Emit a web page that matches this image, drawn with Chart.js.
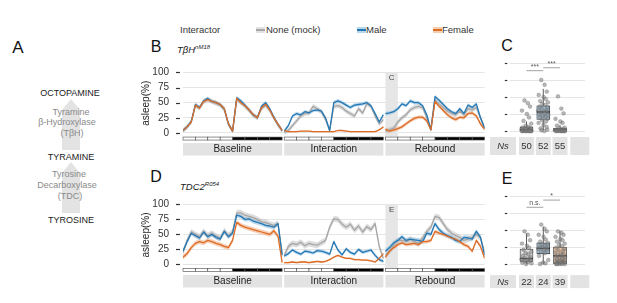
<!DOCTYPE html>
<html>
<head>
<meta charset="utf-8">
<script src="https://cdn.jsdelivr.net/npm/chart.js@4.4.0/dist/chart.umd.min.js"></script>
<style>
body { margin: 0; background: #fff; font-family: "Liberation Sans", Arial, sans-serif; }
#fig { position: relative; width: 617px; height: 303px; overflow: hidden; }
.t { position: absolute; white-space: nowrap; line-height: 1; transform: translate(-50%, -50%); }
.l { position: absolute; white-space: nowrap; line-height: 1; transform: translateY(-50%); }
.key { position: absolute; width: 9px; height: 6px; }
.key i { position: absolute; left: 0; right: 0; top: 2px; height: 2px; }
canvas { position: absolute; }
sup { font-size: 6px; vertical-align: 4px; }
</style>
</head>
<body>
<div id="fig">
  <!-- panel A -->
  <svg width="140" height="303" style="position:absolute;left:0;top:0">
    <polygon points="71,99 80,110 80,150 62,150 62,110" fill="#e3e3e3"/>
    <polygon points="71,162 80,173 80,213 62,213 62,173" fill="#e3e3e3"/>
  </svg>
  <div class="t" style="left:18px;top:47px;font-size:17px;color:#111">A</div>
  <div class="t" style="left:70px;top:93px;font-size:9px;color:#222">OCTOPAMINE</div>
  <div class="t" style="left:71px;top:112px;font-size:9px;color:#8a8a8a">Tyramine</div>
  <div class="t" style="left:67px;top:122px;font-size:9px;color:#8a8a8a">β-Hydroxylase</div>
  <div class="t" style="left:72px;top:133px;font-size:9px;color:#8a8a8a">(TβH)</div>
  <div class="t" style="left:71px;top:157px;font-size:9px;color:#222">TYRAMINE</div>
  <div class="t" style="left:69px;top:174px;font-size:9px;color:#8a8a8a">Tyrosine</div>
  <div class="t" style="left:67px;top:185px;font-size:9px;color:#8a8a8a">Decarboxylase</div>
  <div class="t" style="left:70px;top:196px;font-size:9px;color:#8a8a8a">(TDC)</div>
  <div class="t" style="left:71px;top:220px;font-size:9px;color:#222">TYROSINE</div>

  <!-- legend -->
  <div class="l" style="left:180px;top:30px;font-size:9.5px;color:#333">Interactor</div>
  <div class="key" style="left:256px;top:27px;background:#e2e2e2"><i style="background:#a6a6a6"></i></div>
  <div class="l" style="left:266px;top:30px;font-size:9.5px;color:#333">None (mock)</div>
  <div class="key" style="left:357px;top:27px;background:#b5d6ec"><i style="background:#2478b4"></i></div>
  <div class="l" style="left:366px;top:30px;font-size:9.5px;color:#333">Male</div>
  <div class="key" style="left:433px;top:27px;background:#f7cfae"><i style="background:#dd6c26"></i></div>
  <div class="l" style="left:442px;top:30px;font-size:9.5px;color:#333">Female</div>

  <!-- panel letters and genotypes -->
  <div class="t" style="left:156px;top:47px;font-size:16px;color:#111">B</div>
  <div class="t" style="left:507px;top:46px;font-size:16px;color:#111">C</div>
  <div class="t" style="left:156px;top:177px;font-size:16px;color:#111">D</div>
  <div class="t" style="left:507px;top:179px;font-size:16px;color:#111">E</div>
  <div class="l" style="left:177px;top:49px;font-size:9.5px;font-style:italic;color:#222">TβH<sup>nM18</sup></div>
  <div class="l" style="left:180px;top:186px;font-size:9.5px;font-style:italic;color:#222">TDC2<sup>R054</sup></div>

  <canvas id="chartB" width="350" height="110" style="left:140px;top:50px"></canvas>
  <canvas id="chartC" width="110" height="110" style="left:490px;top:50px"></canvas>
  <canvas id="chartD" width="350" height="110" style="left:140px;top:182px"></canvas>
  <canvas id="chartE" width="110" height="110" style="left:490px;top:182px"></canvas>
</div>

<script>
const FONT = '"Liberation Sans", Arial, sans-serif'

// hour within each 24 h phase, and where each phase starts on the shared time axis
const hours = [0, 1, 2, 3, 4, 5, 6, 7, 8, 9, 10, 11, 12, 13, 14, 15, 16, 17, 18, 19, 20, 21, 22, 23, 24]
const segOffset = [0, 24.5, 49]
const segNames = ['Baseline', 'Interaction', 'Rebound']
const lightBlocks = [0, 3, 6, 9]
const darkBlocks = [12, 15, 18, 21]
const blockLen = 3
const shadeFrom = 49
const shadeTo = 52
const yTicks = [0, 25, 50, 75, 100]

// ---- panel B: TbH nM18 ----
const bMockBase = [4, 10, 18, 45, 41, 52, 55, 52, 49, 46, 38, 14, 3, 55, 50, 44, 37, 29, 25, 40, 46, 37, 24, 13, 4]
const bMockInt  = [1, 4, 12, 20, 28, 32, 33, 44, 40, 35, 22, 4, 44, 45, 42, 36, 32, 28, 40, 33, 48, 44, 28, 15, 22]
const bMockReb  = [3, 5, 8, 18, 25, 30, 38, 42, 44, 42, 25, 6, 55, 48, 42, 36, 32, 30, 36, 30, 40, 38, 42, 25, 8]
const bMaleBase = [4, 10, 19, 47, 42, 53, 57, 52, 50, 47, 40, 15, 3, 58, 53, 46, 38, 30, 25, 44, 50, 40, 26, 14, 4]
const bMaleInt  = [3, 12, 28, 32, 30, 35, 33, 37, 38, 36, 25, 4, 50, 53, 50, 46, 42, 46, 47, 48, 50, 45, 32, 18, 30]
const bMaleReb  = [32, 33, 35, 40, 48, 45, 53, 50, 50, 45, 30, 5, 60, 54, 47, 40, 35, 32, 40, 32, 46, 42, 48, 25, 8]
const bFemBase  = [4, 10, 18, 46, 41, 52, 55, 52, 50, 47, 40, 15, 3, 57, 50, 45, 38, 30, 25, 42, 47, 38, 25, 14, 4]
const bFemInt   = [4, 2, 2, 2, 3, 3, 3, 2, 2, 2, 2, 2, 2, 4, 4, 3, 2, 2, 2, 2, 2, 2, 2, 5, 10]
const bFemReb   = [6, 3, 5, 7, 10, 15, 20, 24, 26, 26, 20, 5, 52, 44, 37, 30, 25, 22, 26, 25, 32, 33, 28, 15, 6]
const bMockSem = [4, 4, 4]
const bMaleSem = [3, 3, 3]
const bFemSem  = [3, 1, 3]

// ---- panel D: TDC2 R054 ----
const dMockBase = [20, 40, 54, 50, 46, 55, 48, 52, 47, 44, 56, 48, 54, 86, 86, 82, 80, 78, 75, 71, 70, 67, 65, 68, 18]
const dMockInt  = [15, 30, 35, 33, 37, 31, 35, 33, 32, 36, 40, 62, 76, 75, 67, 62, 67, 57, 64, 54, 63, 58, 68, 30, 10]
const dMockReb  = [15, 22, 32, 40, 40, 38, 42, 38, 35, 44, 55, 62, 80, 78, 68, 58, 52, 48, 45, 40, 42, 45, 50, 45, 20]
const dMaleBase = [22, 38, 52, 48, 44, 54, 46, 50, 45, 42, 55, 46, 52, 82, 80, 75, 76, 72, 70, 68, 65, 64, 62, 68, 15]
const dMaleInt  = [14, 18, 24, 20, 17, 22, 21, 19, 23, 22, 20, 17, 38, 24, 16, 26, 20, 17, 25, 20, 22, 24, 15, 8, 5]
const dMaleReb  = [22, 28, 36, 40, 46, 40, 42, 41, 40, 38, 52, 50, 68, 58, 52, 48, 45, 40, 38, 45, 44, 42, 55, 45, 15]
const dFemBase  = [12, 18, 28, 35, 38, 36, 40, 38, 35, 33, 30, 28, 40, 70, 65, 62, 60, 58, 56, 54, 52, 50, 56, 47, 3]
const dFemInt   = [3, 3, 4, 3, 4, 4, 3, 4, 5, 4, 5, 8, 12, 15, 12, 10, 10, 8, 8, 7, 7, 6, 4, 10, 18]
const dFemReb   = [12, 22, 28, 33, 36, 33, 34, 35, 33, 38, 38, 40, 55, 52, 50, 47, 44, 42, 38, 33, 30, 22, 40, 30, 10]
const dMockSem = [5, 5, 5]
const dMaleSem = [4, 3, 4]
const dFemSem  = [4, 1.5, 3]

// ---- panel C: sleep in first 3 h of rebound (TbH) ----
const cQ1  = [0, 17, 0]
const cQ3  = [6, 37, 4]
const cMed = [2, 28, 1]
const cLo  = [0, 1, 0]
const cHi  = [14, 62, 9]
const cMockPts = [45, 41, 36, 30, 25, 20, 15, 11, 8, 6, 5, 4, 3, 3, 2, 2, 1, 1, 1, 0, 0, 0, 0, 0, 0, 0, 0, 0, 0, 0]
const cMalePts = [75, 68, 58, 53, 50, 47, 44, 42, 40, 38, 36, 35, 33, 31, 30, 29, 28, 27, 26, 25, 24, 22, 21, 20, 18, 16, 14, 12, 9, 6, 4, 2, 1, 0]
const cFemPts  = [51, 33, 26, 18, 14, 12, 8, 5, 4, 3, 2, 2, 1, 1, 1, 0, 0, 0, 0, 0, 0, 0, 0, 0, 0]
const cNs = ['50', '52', '55']
const cSigFrom = [1, 2]
const cSigTo   = [2, 3]
const cSigY    = [88.7, 93]
const cSigText = ['***', '***']

// ---- panel E: same for TDC2 ----
const eQ1  = [4, 15, 0]
const eQ3  = [22, 31, 25]
const eMed = [8, 23, 12]
const eLo  = [0, 0, 0]
const eHi  = [45, 55, 48]
const eMockPts = [48, 43, 35, 30, 27, 24, 21, 18, 16, 14, 12, 10, 9, 8, 7, 6, 5, 4, 3, 2, 1, 0]
const eMalePts = [58, 52, 48, 43, 40, 36, 33, 31, 29, 27, 26, 25, 24, 23, 22, 21, 20, 18, 16, 12, 6, 2, 1, 0]
const eFemPts  = [48, 46, 43, 40, 37, 35, 33, 30, 28, 26, 24, 22, 20, 19, 17, 15, 14, 13, 12, 11, 10, 9, 8, 7, 6, 5, 4, 4, 3, 3, 2, 2, 1, 1, 0, 0, 0, 0, 0]
const eNs = ['22', '24', '39']
const eSigFrom = [1, 2]
const eSigTo   = [2, 3]
const eSigY    = [83.4, 94]
const eSigText = ['n.s.', '*']

// horizontal jitter of the dots, in group widths
const jitterX = [-0.12, 0.08, 0.21, -0.27, 0.02, 0.15, -0.18, 0.28, -0.05, 0.11, -0.22, 0.25, -0.09, 0.18, -0.3, 0.05, 0.23, -0.14, 0.09, -0.25,
                 0.3, -0.02, 0.13, -0.19, 0.27, -0.07, 0.16, -0.28, 0.01, 0.2, -0.16, 0.24, -0.11, 0.06, -0.23, 0.29, -0.04, 0.12, -0.2, 0.19]

const lineCol = ['#a6a6a6', '#2478b4', '#dd6c26']
const bandCol = ['rgba(180,180,180,0.45)', 'rgba(125,182,224,0.5)', 'rgba(240,160,110,0.5)']
const boxFill = ['#e2e2e2', '#a9cce4', '#f6caa6']

function tickDashes(chart, len, gap) {
  const {ctx, chartArea: a, scales: {y}} = chart
  ctx.save()
  ctx.strokeStyle = '#333'
  ctx.lineWidth = 1.2
  y.ticks.forEach(t => {
    const py = Math.round(y.getPixelForValue(t.value)) + 0.5
    ctx.beginPath()
    ctx.moveTo(a.left - gap - len, py)
    ctx.lineTo(a.left - gap, py)
    ctx.stroke()
  })
  ctx.restore()
}

function timeDeco(shadeLabel, stripTop) {
  return {
    id: 'timeDeco',
    beforeDatasetsDraw(chart) {
      const {ctx, chartArea: a, scales: {x, y}} = chart
      const x0 = x.getPixelForValue(shadeFrom), x1 = x.getPixelForValue(shadeTo)
      const top = y.getPixelForValue(100)
      ctx.save()
      ctx.fillStyle = '#e6e6e6'
      ctx.fillRect(x0, top, x1 - x0, a.bottom - top)
      ctx.fillStyle = '#444'
      ctx.font = '8px ' + FONT
      ctx.textAlign = 'center'
      ctx.textBaseline = 'middle'
      ctx.fillText(shadeLabel, (x0 + x1) / 2, top + 5)
      ctx.restore()
    },
    afterDraw(chart) {
      const {ctx, chartArea: a, scales: {x}} = chart
      ctx.save()
      segOffset.forEach((off, s) => {
        // light / dark bar
        const drawBlocks = (list, fill, stroke) => list.forEach(h => {
          const p0 = x.getPixelForValue(off + h), p1 = x.getPixelForValue(off + h + blockLen)
          ctx.fillStyle = fill
          ctx.fillRect(p0, a.bottom + 0.5, p1 - p0, 3)
          ctx.strokeStyle = stroke
          ctx.lineWidth = 0.6
          ctx.strokeRect(p0, a.bottom + 0.5, p1 - p0, 3)
        })
        drawBlocks(lightBlocks, '#ffffff', '#444')
        drawBlocks(darkBlocks, '#000000', '#666')
        // facet strip
        const s0 = x.getPixelForValue(off), s1 = x.getPixelForValue(off + 24)
        ctx.fillStyle = '#e3e3e3'
        ctx.fillRect(s0, a.bottom + stripTop, s1 - s0, 12.5)
        ctx.fillStyle = '#222'
        ctx.font = '10px ' + FONT
        ctx.textAlign = 'center'
        ctx.textBaseline = 'middle'
        ctx.fillText(segNames[s], (s0 + s1) / 2, a.bottom + stripTop + 6.6)
      })
      ctx.restore()
      tickDashes(chart, 4, 3)
    }
  }
}

function lineChart(id, series, sems, shadeLabel, pad, stripTop) {
  const datasets = []
  series.forEach((segs, k) => {
    segs.forEach((vals, s) => {
      const xy = d => vals.map((v, i) => ({x: segOffset[s] + hours[i], y: v + d * sems[k][s]}))
      datasets.push({data: xy(1), borderWidth: 0, borderColor: 'rgba(0,0,0,0)', pointRadius: 0, fill: '+1', backgroundColor: bandCol[k], order: 10})
      datasets.push({data: xy(-1), borderWidth: 0, borderColor: 'rgba(0,0,0,0)', pointRadius: 0, fill: false, order: 10})
      datasets.push({data: xy(0), borderColor: lineCol[k], borderWidth: 1.3, pointRadius: 0, fill: false, order: 3 - k})
    })
  })
  return new Chart(document.getElementById(id), {
    type: 'line',
    data: {datasets},
    options: {
      responsive: false,
      animation: false,
      devicePixelRatio: 1,
      layout: {padding: pad},
      elements: {line: {tension: 0, borderJoinStyle: 'round'}},
      plugins: {legend: {display: false}, tooltip: {enabled: false}},
      scales: {
        x: {type: 'linear', min: 0, max: 73, display: false},
        y: {
          min: -6, max: 104,
          afterFit: s => { s.width = 43 },
          afterBuildTicks: s => { s.ticks = yTicks.map(v => ({value: v})) },
          grid: {color: '#dedede', lineWidth: 0.8, drawTicks: false},
          border: {display: false},
          ticks: {padding: 14, color: '#333', font: {size: 10, family: FONT}},
          title: {display: true, text: 'asleep(%)', color: '#222', font: {size: 10, family: FONT}, padding: {top: 0, bottom: 0}}
        }
      }
    },
    plugins: [timeDeco(shadeLabel, stripTop)]
  })
}

function boxDeco(q1, q3, med, lo, hi, sigFrom, sigTo, sigY, sigText, ns, nsTop, nsBottom) {
  return {
    id: 'boxDeco',
    beforeDatasetsDraw(chart) {
      const {ctx, scales: {x, y}} = chart
      ctx.save()
      ctx.strokeStyle = '#333'
      ctx.lineWidth = 0.8
      q1.forEach((v, i) => {
        const px = x.getPixelForValue(i + 1)
        ctx.beginPath()
        ctx.moveTo(px, y.getPixelForValue(lo[i])); ctx.lineTo(px, y.getPixelForValue(q1[i]))
        ctx.moveTo(px, y.getPixelForValue(q3[i])); ctx.lineTo(px, y.getPixelForValue(hi[i]))
        ctx.stroke()
      })
      ctx.restore()
    },
    afterDatasetDraw(chart, args) {
      if (args.index !== 0) return
      const {ctx, scales: {x, y}} = chart
      ctx.save()
      ctx.strokeStyle = '#222'
      ctx.lineWidth = 1.4
      med.forEach((v, i) => {
        const px = x.getPixelForValue(i + 1), py = y.getPixelForValue(v)
        ctx.beginPath()
        ctx.moveTo(px - 6.5, py); ctx.lineTo(px + 6.5, py)
        ctx.stroke()
      })
      ctx.restore()
    },
    afterDraw(chart) {
      const {ctx, chartArea: a, scales: {x, y}} = chart
      ctx.save()
      // significance bars
      sigFrom.forEach((f, i) => {
        const p0 = x.getPixelForValue(f), p1 = x.getPixelForValue(sigTo[i]), py = y.getPixelForValue(sigY[i])
        ctx.strokeStyle = '#8a8a8a'
        ctx.lineWidth = 0.8
        ctx.beginPath(); ctx.moveTo(p0, py); ctx.lineTo(p1, py); ctx.stroke()
        ctx.fillStyle = '#555'
        ctx.font = '7px ' + FONT
        ctx.textAlign = 'center'
        ctx.textBaseline = 'bottom'
        ctx.fillText(sigText[i], (p0 + p1) / 2, py - 0.5)
      })
      // Ns strip
      const top = a.bottom + nsTop, h = nsBottom - nsTop, cy = top + h / 2 + 0.5
      ctx.fillStyle = '#e3e3e3'
      ctx.fillRect(a.left - 20, top, 26, h)
      ns.forEach((n, i) => {
        const px = x.getPixelForValue(i + 1)
        ctx.fillRect(px - 7.5, top, 15, h)
      })
      const pb = x.getPixelForValue(ns.length + 1)
      ctx.fillRect(pb - 6.5, top, 19, h)
      ctx.fillStyle = '#333'
      ctx.textAlign = 'center'
      ctx.textBaseline = 'middle'
      ctx.font = 'italic 9.5px ' + FONT
      ctx.fillText('Ns', a.left - 7, cy)
      ctx.font = '9.5px ' + FONT
      ns.forEach((n, i) => ctx.fillText(n, x.getPixelForValue(i + 1), cy))
      ctx.restore()
      tickDashes(chart, 2.5, 2.7)
    }
  }
}

function boxChart(id, q1, q3, med, lo, hi, pts, sig, ns, pad, nsTop, nsBottom) {
  const dots = []
  pts.forEach((ys, g) => ys.forEach((v, i) => dots.push({x: g + 1 + jitterX[i], y: v})))
  return new Chart(document.getElementById(id), {
    type: 'bar',
    data: {
      datasets: [
        {
          type: 'bar',
          data: q1.map((v, i) => ({x: i + 1, y: [q1[i], q3[i]]})),
          backgroundColor: boxFill,
          borderColor: '#333',
          borderWidth: 0.8,
          borderSkipped: false,
          barThickness: 13,
          order: 2
        },
        {
          type: 'scatter',
          data: dots,
          pointRadius: 1.9,
          backgroundColor: 'rgba(125,125,125,0.55)',
          borderColor: 'rgba(90,90,90,0.55)',
          borderWidth: 0.5,
          order: 1
        }
      ]
    },
    options: {
      responsive: false,
      animation: false,
      devicePixelRatio: 1,
      layout: {padding: pad},
      plugins: {legend: {display: false}, tooltip: {enabled: false}},
      scales: {
        x: {type: 'linear', min: 0.015, max: 4.49, offset: false, display: false},
        y: {
          min: -6, max: 105,
          afterFit: s => { s.width = 20 },
          afterBuildTicks: s => { s.ticks = yTicks.map(v => ({value: v})) },
          grid: {color: '#dedede', lineWidth: 0.8, drawTicks: false},
          border: {display: false},
          ticks: {display: false}
        }
      }
    },
    plugins: [boxDeco(q1, q3, med, lo, hi, sig[0], sig[1], sig[2], sig[3], ns, nsTop, nsBottom)]
  })
}

lineChart('chartB',
  [[bMockBase, bMockInt, bMockReb], [bMaleBase, bMaleInt, bMaleReb], [bFemBase, bFemInt, bFemReb]],
  [bMockSem, bMaleSem, bFemSem], 'C', {top: 12.3, bottom: 23.45, right: 5.4, left: 0}, 6.5)

lineChart('chartD',
  [[dMockBase, dMockInt, dMockReb], [dMaleBase, dMaleInt, dMaleReb], [dFemBase, dFemInt, dFemReb]],
  [dMockSem, dMaleSem, dFemSem], 'E', {top: 12.3, bottom: 24, right: 5.4, left: 0}, 7)

boxChart('chartC', cQ1, cQ3, cMed, cLo, cHi, [cMockPts, cMalePts, cFemPts],
  [cSigFrom, cSigTo, cSigY, cSigText], cNs, {top: 9.6, bottom: 24.9, right: 15, left: 0}, 1.9, 19.9)

boxChart('chartE', eQ1, eQ3, eMed, eLo, eHi, [eMockPts, eMalePts, eFemPts],
  [eSigFrom, eSigTo, eSigY, eSigText], eNs, {top: 10.6, bottom: 23.9, right: 15, left: 0}, 7, 20)
</script>
</body>
</html>
